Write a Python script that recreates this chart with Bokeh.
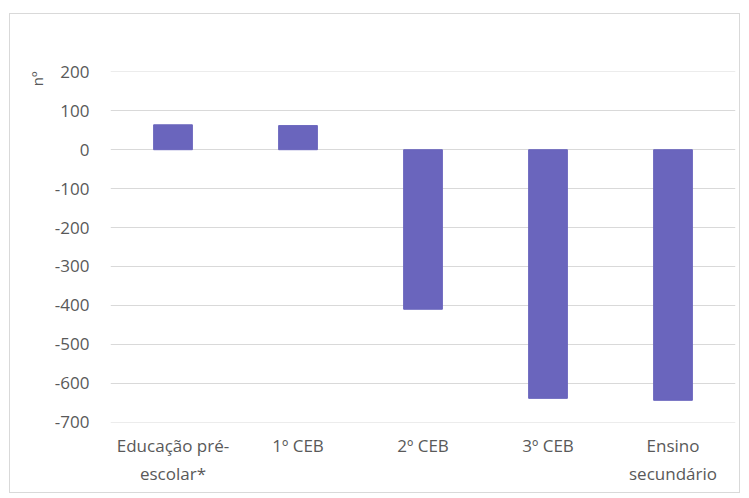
from bokeh.plotting import figure
from bokeh.models import Range1d, FactorRange, Title
from bokeh.embed import file_html
from bokeh.resources import INLINE

categories = ["Educação pré-\nescolar*", "1º CEB", "2º CEB", "3º CEB", "Ensino\nsecundário"]
values = [64, 62, -410, -639, -644]
y_ticks = [-700, -600, -500, -400, -300, -200, -100, 0, 100, 200]
y_tick_labels = {t: str(t) for t in y_ticks}

FONT = "Open Sans"
TXT = "#595959"

p = figure(x_range=FactorRange(factors=categories, range_padding=0),
           y_range=Range1d(-701, 201),
           width=731, height=480, output_backend="svg", toolbar_location=None,
           min_border_left=100, min_border_right=6, min_border_top=57, min_border_bottom=72)
p.styles = {"margin-left": "9px", "margin-top": "13px", "border": "1px solid #d9d9d9"}
p.outline_line_color = None

p.vbar(x=categories, top=values, bottom=0, width=0.31, fill_color="#6a65bd", line_color="#6a65bd")

p.yaxis.ticker = y_ticks
p.yaxis.major_label_overrides = y_tick_labels
p.yaxis.axis_line_color = None
p.yaxis.major_tick_line_color = None
p.yaxis.minor_tick_line_color = None
p.yaxis.major_label_text_color = TXT
p.yaxis.major_label_text_font = FONT
p.yaxis.major_label_text_font_size = "17px"
p.yaxis.major_label_standoff = 15

p.xaxis.axis_line_color = None
p.xaxis.major_tick_line_color = None
p.xaxis.minor_tick_line_color = None
p.xaxis.major_label_text_color = TXT
p.xaxis.major_label_text_font = FONT
p.xaxis.major_label_text_font_size = "17px"
p.xaxis.major_label_text_line_height = 1.25
p.xaxis.major_label_standoff = 5

p.xgrid.grid_line_color = None
p.ygrid.ticker = y_ticks
p.ygrid.grid_line_color = "#d9d9d9"
p.ygrid.grid_line_width = 1

p.add_layout(Title(text="nº", align="right", text_color=TXT, text_font=FONT,
                   text_font_size="15px", text_font_style="normal", standoff=9), "left")

open("out.html", "w").write(file_html(p, INLINE))
